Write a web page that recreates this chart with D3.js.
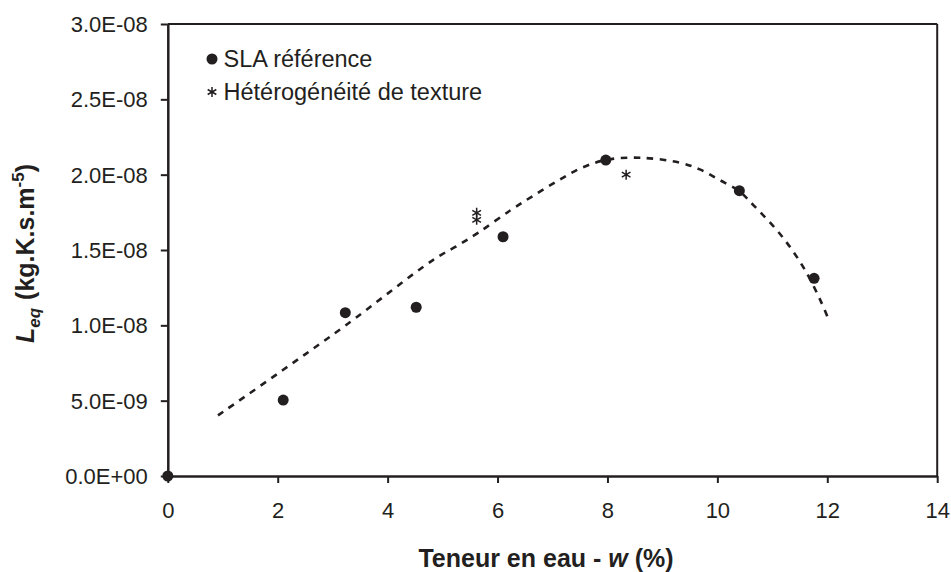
<!DOCTYPE html>
<html>
<head>
<meta charset="utf-8">
<script src="https://cdn.jsdelivr.net/npm/d3@7"></script>
<style>
  html, body { margin: 0; padding: 0; background: #fff; }
  svg { display: block; font-family: "Liberation Sans", Arial, sans-serif; }
</style>
</head>
<body>
<svg id="chart" width="951" height="572"></svg>
<script>
// Water content (%) and equivalent permeance Leq (kg.K.s.m^-5)
const slaW = [0, 2.1, 3.23, 4.52, 6.1, 7.97, 10.4, 11.76];
const slaLeq = [0, 5.04e-9, 1.084e-8, 1.12e-8, 1.588e-8, 2.097e-8, 1.894e-8, 1.312e-8];

const hetW = [5.62, 5.62, 8.34];
const hetLeq = [1.747e-8, 1.70e-8, 2.0e-8];

// Trend curve through the data
const trendW = [0.913, 2.1, 3.23, 4.83, 5.23, 5.65, 6.24, 6.65, 7.1, 7.5, 7.97, 8.6, 9.31, 9.68, 10.04, 10.4, 10.65, 11.17, 11.59, 11.9, 12.0];
const trendLeq = [4.02e-9, 7.05e-9, 9.98e-9, 1.435e-8, 1.52e-8, 1.615e-8, 1.765e-8, 1.86e-8, 1.96e-8, 2.04e-8, 2.098e-8, 2.112e-8, 2.08e-8, 2.035e-8, 1.965e-8, 1.89e-8, 1.80e-8, 1.593e-8, 1.37e-8, 1.146e-8, 1.06e-8];

const xTicks = [0, 2, 4, 6, 8, 10, 12, 14];
const yTicks = [0, 5e-9, 1e-8, 1.5e-8, 2e-8, 2.5e-8, 3e-8];

const legendLabels = ["SLA référence", "Hétérogénéité de texture"];

const ink = "#231f20";
const svg = d3.select("#chart");
const m = { left: 167.8, right: 937.2, top: 24, bottom: 476 };

const x = d3.scaleLinear().domain([0, 14]).range([m.left, m.right]);
const y = d3.scaleLinear().domain([0, 3e-8]).range([m.bottom, m.top]);

function sci(v) {
  const [mant, exp] = v.toExponential(1).split("e");
  const sign = exp[0] === "-" ? "-" : "+";
  const digits = exp.replace(/[+-]/, "").padStart(2, "0");
  return mant + "E" + sign + digits;
}

// Frame: top and right borders
svg.append("line").attr("x1", m.left).attr("x2", m.right).attr("y1", m.top).attr("y2", m.top)
  .attr("stroke", ink).attr("stroke-width", 2);
svg.append("line").attr("x1", m.right).attr("x2", m.right).attr("y1", m.top).attr("y2", m.bottom)
  .attr("stroke", ink).attr("stroke-width", 2);

// Axes
const xAxis = svg.append("g").attr("transform", `translate(0,${m.bottom})`)
  .call(d3.axisBottom(x).tickValues(xTicks).tickSize(7).tickPadding(10).tickSizeOuter(0).tickFormat(d3.format("d")));
const yAxis = svg.append("g").attr("transform", `translate(${m.left},0)`)
  .call(d3.axisLeft(y).tickValues(yTicks).tickSize(7).tickPadding(13).tickSizeOuter(0).tickFormat(sci));

[xAxis, yAxis].forEach(g => {
  g.attr("font-size", null).attr("font-family", null);
  g.select(".domain").attr("stroke", ink).attr("stroke-width", 2.5);
  g.selectAll(".tick line").attr("stroke", ink).attr("stroke-width", 2);
  g.selectAll(".tick text").attr("fill", ink).style("font-size", "22px");
});
xAxis.selectAll(".tick text").attr("y", 42).attr("dy", null);
yAxis.selectAll(".tick text").attr("dy", "0.34em");

// Trend line (dashed)
const trend = trendW.map((w, i) => [w, trendLeq[i]]);
svg.append("path")
  .datum(trend)
  .attr("d", d3.line().x(d => x(d[0])).y(d => y(d[1])).curve(d3.curveCatmullRom))
  .attr("fill", "none")
  .attr("stroke", ink)
  .attr("stroke-width", 2.6)
  .attr("stroke-dasharray", "6.5,6.5");

// Asterisk marker
function asterisk(g, cx, cy, r) {
  const p = d3.path();
  for (let k = 0; k < 3; k++) {
    const a = Math.PI / 2 + k * Math.PI / 3;
    p.moveTo(cx + r * Math.cos(a), cy + r * Math.sin(a));
    p.lineTo(cx - r * Math.cos(a), cy - r * Math.sin(a));
  }
  g.append("path").attr("d", p.toString()).attr("stroke", ink).attr("stroke-width", 1.5).attr("fill", "none");
}

// SLA reference points
svg.append("g").selectAll("circle")
  .data(slaW.map((w, i) => [w, slaLeq[i]]))
  .join("circle")
  .attr("cx", d => x(d[0]))
  .attr("cy", d => y(d[1]))
  .attr("r", 5.5)
  .attr("fill", ink);

// Texture heterogeneity points
const het = svg.append("g");
hetW.forEach((w, i) => asterisk(het, x(w), y(hetLeq[i]), 5));

// Legend
const lg = svg.append("g");
lg.append("circle").attr("cx", 212).attr("cy", 59).attr("r", 5.5).attr("fill", ink);
lg.append("text").attr("x", 223.5).attr("y", 67.3).attr("fill", ink)
  .style("font-size", "23.5px").text(legendLabels[0]);
asterisk(lg, 212, 92, 5);
lg.append("text").attr("x", 223.5).attr("y", 100.3).attr("fill", ink)
  .style("font-size", "23.5px").text(legendLabels[1]);

// X axis title
const xt = svg.append("text").attr("x", 546).attr("y", 566.5)
  .attr("text-anchor", "middle").attr("fill", ink)
  .style("font-size", "25px").style("font-weight", "bold");
xt.append("tspan").text("Teneur en eau - ");
xt.append("tspan").style("font-style", "italic").text("w");
xt.append("tspan").text(" (%)");

// Y axis title
const yt = svg.append("text")
  .attr("transform", "translate(34,253.5) rotate(-90)")
  .attr("text-anchor", "middle").attr("fill", ink)
  .style("font-size", "25px").style("font-weight", "bold");
yt.append("tspan").style("font-style", "italic").text("L");
yt.append("tspan").style("font-style", "italic").style("font-size", "17px").attr("dy", 6).text("eq");
yt.append("tspan").attr("dy", -6).attr("dx", 8).text("(kg.K.s.m");
yt.append("tspan").style("font-size", "17px").attr("dy", -10).text("-5");
yt.append("tspan").attr("dy", 10).text(")");
</script>
</body>
</html>
